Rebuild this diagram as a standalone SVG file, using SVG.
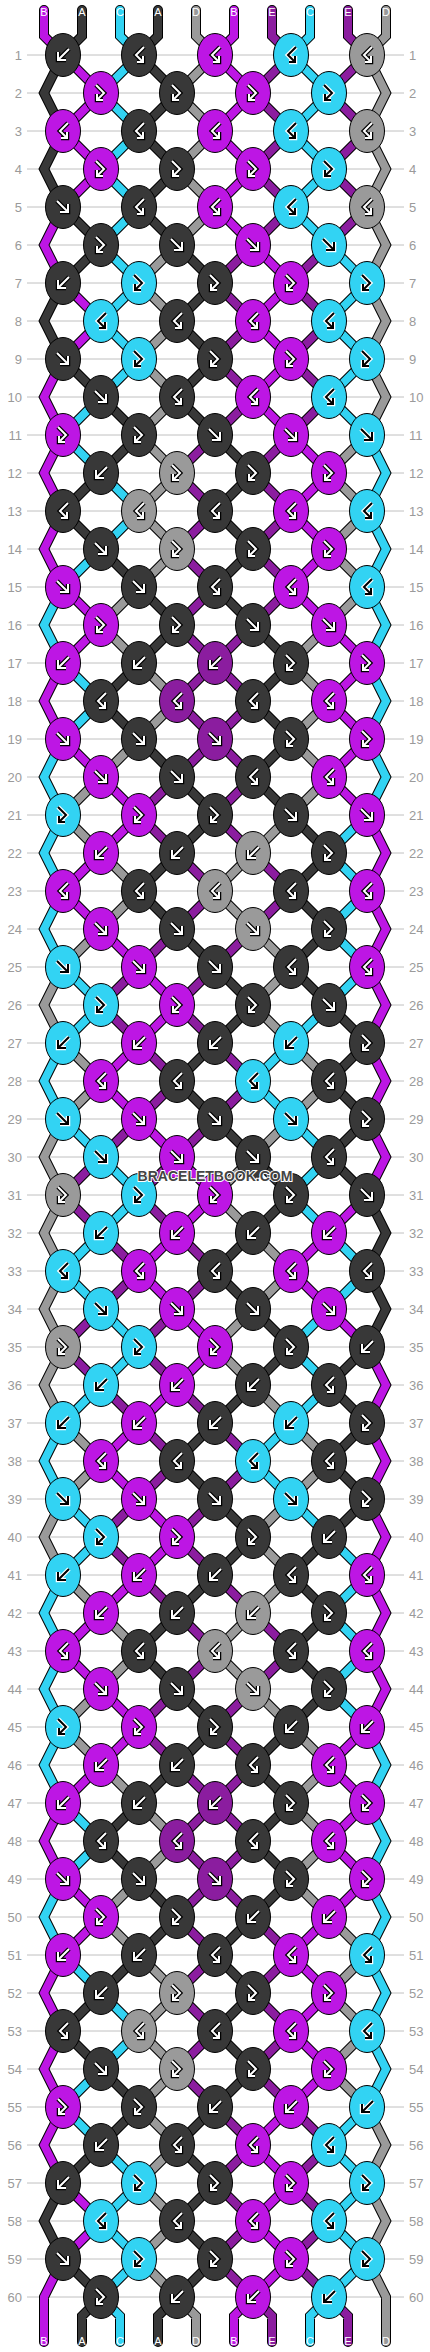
<svg xmlns="http://www.w3.org/2000/svg" width="430" height="2352" viewBox="0 0 430 2352">
<style>
.g{fill:none;stroke:#c0c0c0;stroke-width:1}
.n{font-family:"Liberation Sans",Arial,sans-serif;font-size:13px;fill:#9a9a9a}
.ne{text-anchor:end}
.so{fill:none;stroke:#000;stroke-width:10;stroke-linecap:round}
.si{fill:none;stroke-width:8;stroke-linecap:round}
.ob{fill:none;stroke:#000;stroke-width:4.5}
.iw{fill:none;stroke:#fff;stroke-width:2}
.ow{fill:none;stroke:#fff;stroke-width:4.5}
.ik{fill:none;stroke:#000;stroke-width:2}
.lb{font-family:"Liberation Sans",Arial,sans-serif;font-size:11px;fill:#fff;text-anchor:middle}
.wm{font-family:"Liberation Sans",Arial,sans-serif;font-size:14px;font-weight:bold;fill:#444;stroke:#fff;stroke-width:2;paint-order:stroke;text-anchor:middle}
</style>
<defs>
<ellipse id="e" rx="17.5" ry="21.5" stroke="#000" stroke-width="1"/>
<path id="pf" d="M-6-6L4 4M5-3V5H-3"/>
<path id="pb" d="M6-6L-4 4M-5-3V5H3"/>
<path id="px" d="M-5-8L3 0L-4 7M-4 1V7H2"/>
<path id="py" d="M5-8L-3 0L4 7M4 1V7H-2"/>
<g id="wf"><use href="#pf" class="ob"/><use href="#pf" class="iw"/></g>
<g id="wb"><use href="#pb" class="ob"/><use href="#pb" class="iw"/></g>
<g id="wx"><use href="#px" class="ob"/><use href="#px" class="iw"/></g>
<g id="wy"><use href="#py" class="ob"/><use href="#py" class="iw"/></g>
<g id="zf"><use href="#pf" class="ow"/><use href="#pf" class="ik"/></g>
<g id="zb"><use href="#pb" class="ow"/><use href="#pb" class="ik"/></g>
<g id="zx"><use href="#px" class="ow"/><use href="#px" class="ik"/></g>
<g id="zy"><use href="#py" class="ow"/><use href="#py" class="ik"/></g>
<g id="Kf"><use href="#e" fill="#383838"/><use href="#wf"/></g>
<g id="Kb"><use href="#e" fill="#383838"/><use href="#wb"/></g>
<g id="Kx"><use href="#e" fill="#383838"/><use href="#wx"/></g>
<g id="Ky"><use href="#e" fill="#383838"/><use href="#wy"/></g>
<g id="Mf"><use href="#e" fill="#bd16e4"/><use href="#wf"/></g>
<g id="Mb"><use href="#e" fill="#bd16e4"/><use href="#wb"/></g>
<g id="Mx"><use href="#e" fill="#bd16e4"/><use href="#wx"/></g>
<g id="My"><use href="#e" fill="#bd16e4"/><use href="#wy"/></g>
<g id="Cf"><use href="#e" fill="#32d3f3"/><use href="#zf"/></g>
<g id="Cb"><use href="#e" fill="#32d3f3"/><use href="#zb"/></g>
<g id="Cx"><use href="#e" fill="#32d3f3"/><use href="#zx"/></g>
<g id="Cy"><use href="#e" fill="#32d3f3"/><use href="#zy"/></g>
<g id="Gf"><use href="#e" fill="#9a9a9a"/><use href="#wf"/></g>
<g id="Gb"><use href="#e" fill="#9a9a9a"/><use href="#wb"/></g>
<g id="Gx"><use href="#e" fill="#9a9a9a"/><use href="#wx"/></g>
<g id="Gy"><use href="#e" fill="#9a9a9a"/><use href="#wy"/></g>
<g id="Pf"><use href="#e" fill="#8b1d9f"/><use href="#wf"/></g>
<g id="Pb"><use href="#e" fill="#8b1d9f"/><use href="#wb"/></g>
<g id="Py"><use href="#e" fill="#8b1d9f"/><use href="#wy"/></g>
<path id="s1" d="M44 10V36L63 55 101 93 63 131 101 169 63 207 44 245 63 283 101 321 63 359 44 397 63 435 44 473 63 511 44 549 63 587 101 625 63 663 44 701 63 739 101 777 139 815 101 853 63 891 101 929 139 967 177 1005 139 1043 101 1081 139 1119 177 1157 215 1195 177 1233 139 1271 177 1309 215 1347 177 1385 139 1423 101 1461 139 1499 177 1537 139 1575 101 1613 63 1651 101 1689 139 1727 101 1765 63 1803 44 1841 63 1879 101 1917 63 1955 44 1993 63 2031 44 2069 63 2107 44 2145 63 2183 101 2221 63 2259 44 2297V2342"/>
<path id="s2" d="M82 10V36L63 55 44 93 63 131 44 169 63 207 101 245 63 283 44 321 63 359 101 397 139 435 101 473 63 511 101 549 139 587 177 625 139 663 101 701 139 739 177 777 215 815 177 853 139 891 177 929 215 967 253 1005 215 1043 177 1081 215 1119 253 1157 291 1195 253 1233 215 1271 253 1309 291 1347 253 1385 215 1423 177 1461 215 1499 253 1537 215 1575 177 1613 139 1651 177 1689 215 1727 177 1765 139 1803 101 1841 139 1879 177 1917 139 1955 101 1993 63 2031 101 2069 139 2107 101 2145 63 2183 44 2221 63 2259 101 2297 82 2316V2342"/>
<path id="s3" d="M120 10V36L139 55 101 93 139 131 101 169 139 207 101 245 139 283 101 321 139 359 101 397 63 435 101 473 139 511 101 549 63 587 44 625 63 663 101 701 63 739 44 777 63 815 44 853 63 891 44 929 63 967 101 1005 63 1043 44 1081 63 1119 101 1157 139 1195 101 1233 63 1271 101 1309 139 1347 101 1385 63 1423 44 1461 63 1499 101 1537 63 1575 44 1613 63 1651 44 1689 63 1727 44 1765 63 1803 101 1841 63 1879 44 1917 63 1955 101 1993 139 2031 101 2069 63 2107 101 2145 139 2183 101 2221 139 2259 101 2297 120 2316V2342"/>
<path id="s4" d="M158 10V36L139 55 177 93 139 131 177 169 139 207 177 245 215 283 177 321 215 359 177 397 215 435 253 473 215 511 253 549 215 587 253 625 291 663 253 701 291 739 253 777 291 815 329 853 291 891 329 929 291 967 329 1005 367 1043 329 1081 367 1119 329 1157 367 1195 386 1233 367 1271 386 1309 367 1347 329 1385 367 1423 329 1461 367 1499 329 1537 291 1575 329 1613 291 1651 329 1689 291 1727 253 1765 291 1803 253 1841 291 1879 253 1917 215 1955 253 1993 215 2031 253 2069 215 2107 177 2145 215 2183 177 2221 215 2259 177 2297 158 2316V2342"/>
<path id="s5" d="M196 10V36L215 55 177 93 215 131 177 169 215 207 177 245 139 283 177 321 139 359 177 397 139 435 177 473 139 511 177 549 139 587 101 625 139 663 177 701 139 739 101 777 63 815 101 853 139 891 101 929 63 967 44 1005 63 1043 101 1081 63 1119 44 1157 63 1195 44 1233 63 1271 44 1309 63 1347 44 1385 63 1423 101 1461 63 1499 44 1537 63 1575 101 1613 139 1651 101 1689 63 1727 101 1765 139 1803 177 1841 139 1879 101 1917 139 1955 177 1993 139 2031 177 2069 139 2107 177 2145 139 2183 177 2221 139 2259 177 2297 196 2316V2342"/>
<path id="s6" d="M234 10V36L215 55 253 93 215 131 253 169 215 207 253 245 291 283 253 321 291 359 253 397 291 435 329 473 291 511 329 549 291 587 329 625 367 663 329 701 367 739 329 777 367 815 386 853 367 891 386 929 367 967 386 1005 367 1043 386 1081 367 1119 386 1157 367 1195 329 1233 291 1271 329 1309 367 1347 386 1385 367 1423 386 1461 367 1499 386 1537 367 1575 386 1613 367 1651 386 1689 367 1727 329 1765 367 1803 329 1841 367 1879 329 1917 291 1955 329 1993 291 2031 329 2069 291 2107 253 2145 291 2183 253 2221 291 2259 253 2297 234 2316V2342"/>
<path id="s7" d="M272 10V36L291 55 253 93 291 131 253 169 291 207 253 245 215 283 253 321 215 359 253 397 215 435 177 473 215 511 177 549 215 587 177 625 215 663 253 701 215 739 177 777 139 815 177 853 215 891 177 929 139 967 101 1005 139 1043 177 1081 139 1119 101 1157 63 1195 101 1233 139 1271 101 1309 63 1347 101 1385 139 1423 177 1461 139 1499 101 1537 139 1575 177 1613 215 1651 177 1689 139 1727 177 1765 215 1803 253 1841 215 1879 177 1917 215 1955 177 1993 215 2031 177 2069 215 2107 253 2145 215 2183 253 2221 215 2259 253 2297 272 2316V2342"/>
<path id="s8" d="M310 10V36L291 55 329 93 291 131 329 169 291 207 329 245 367 283 329 321 367 359 329 397 367 435 386 473 367 511 386 549 367 587 386 625 367 663 386 701 367 739 386 777 367 815 329 853 367 891 329 929 367 967 329 1005 291 1043 253 1081 291 1119 329 1157 291 1195 329 1233 367 1271 329 1309 291 1347 329 1385 291 1423 253 1461 291 1499 329 1537 367 1575 329 1613 367 1651 329 1689 367 1727 386 1765 367 1803 386 1841 367 1879 386 1917 367 1955 386 1993 367 2031 386 2069 367 2107 329 2145 367 2183 329 2221 367 2259 329 2297 310 2316V2342"/>
<path id="s9" d="M348 10V36L367 55 329 93 367 131 329 169 367 207 329 245 291 283 329 321 291 359 329 397 291 435 253 473 291 511 253 549 291 587 253 625 215 663 177 701 215 739 253 777 215 815 253 853 291 891 253 929 215 967 177 1005 215 1043 253 1081 215 1119 177 1157 139 1195 177 1233 215 1271 177 1309 139 1347 177 1385 215 1423 253 1461 215 1499 177 1537 215 1575 253 1613 291 1651 253 1689 215 1727 253 1765 215 1803 177 1841 215 1879 253 1917 291 1955 253 1993 291 2031 253 2069 291 2107 329 2145 291 2183 329 2221 291 2259 329 2297 348 2316V2342"/>
<path id="s10" d="M386 10V36L367 55 386 93 367 131 386 169 367 207 386 245 367 283 386 321 367 359 386 397 367 435 329 473 367 511 329 549 367 587 329 625 291 663 329 701 291 739 329 777 291 815 253 853 215 891 253 929 291 967 253 1005 291 1043 329 1081 291 1119 253 1157 215 1195 253 1233 291 1271 253 1309 215 1347 253 1385 291 1423 329 1461 291 1499 253 1537 291 1575 253 1613 215 1651 253 1689 291 1727 329 1765 291 1803 329 1841 291 1879 329 1917 367 1955 329 1993 367 2031 329 2069 367 2107 386 2145 367 2183 386 2221 367 2259 386 2297V2342"/>
</defs>
<rect width="430" height="2352" fill="#fff"/>
<g id="grid">
<path class="g" d="M27 55H404M27 93H404M27 131H404M27 169H404M27 207H404M27 245H404M27 283H404M27 321H404M27 359H404M27 397H404M27 435H404M27 473H404M27 511H404M27 549H404M27 587H404M27 625H404M27 663H404M27 701H404M27 739H404M27 777H404M27 815H404M27 853H404M27 891H404M27 929H404M27 967H404M27 1005H404M27 1043H404M27 1081H404M27 1119H404M27 1157H404M27 1195H404M27 1233H404M27 1271H404M27 1309H404M27 1347H404M27 1385H404M27 1423H404M27 1461H404M27 1499H404M27 1537H404M27 1575H404M27 1613H404M27 1651H404M27 1689H404M27 1727H404M27 1765H404M27 1803H404M27 1841H404M27 1879H404M27 1917H404M27 1955H404M27 1993H404M27 2031H404M27 2069H404M27 2107H404M27 2145H404M27 2183H404M27 2221H404M27 2259H404M27 2297H404"/>
</g>
<g id="rownumbers" class="n">
<g class="ne">
<text x="22" y="60">1</text><text x="22" y="98">2</text><text x="22" y="136">3</text><text x="22" y="174">4</text><text x="22" y="212">5</text><text x="22" y="250">6</text><text x="22" y="288">7</text><text x="22" y="326">8</text><text x="22" y="364">9</text><text x="22" y="402">10</text>
<text x="22" y="440">11</text><text x="22" y="478">12</text><text x="22" y="516">13</text><text x="22" y="554">14</text><text x="22" y="592">15</text><text x="22" y="630">16</text><text x="22" y="668">17</text><text x="22" y="706">18</text><text x="22" y="744">19</text><text x="22" y="782">20</text>
<text x="22" y="820">21</text><text x="22" y="858">22</text><text x="22" y="896">23</text><text x="22" y="934">24</text><text x="22" y="972">25</text><text x="22" y="1010">26</text><text x="22" y="1048">27</text><text x="22" y="1086">28</text><text x="22" y="1124">29</text><text x="22" y="1162">30</text>
<text x="22" y="1200">31</text><text x="22" y="1238">32</text><text x="22" y="1276">33</text><text x="22" y="1314">34</text><text x="22" y="1352">35</text><text x="22" y="1390">36</text><text x="22" y="1428">37</text><text x="22" y="1466">38</text><text x="22" y="1504">39</text><text x="22" y="1542">40</text>
<text x="22" y="1580">41</text><text x="22" y="1618">42</text><text x="22" y="1656">43</text><text x="22" y="1694">44</text><text x="22" y="1732">45</text><text x="22" y="1770">46</text><text x="22" y="1808">47</text><text x="22" y="1846">48</text><text x="22" y="1884">49</text><text x="22" y="1922">50</text>
<text x="22" y="1960">51</text><text x="22" y="1998">52</text><text x="22" y="2036">53</text><text x="22" y="2074">54</text><text x="22" y="2112">55</text><text x="22" y="2150">56</text><text x="22" y="2188">57</text><text x="22" y="2226">58</text><text x="22" y="2264">59</text><text x="22" y="2302">60</text>
</g>
<g>
<text x="409" y="60">1</text><text x="409" y="98">2</text><text x="409" y="136">3</text><text x="409" y="174">4</text><text x="409" y="212">5</text><text x="409" y="250">6</text><text x="409" y="288">7</text><text x="409" y="326">8</text><text x="409" y="364">9</text><text x="409" y="402">10</text>
<text x="409" y="440">11</text><text x="409" y="478">12</text><text x="409" y="516">13</text><text x="409" y="554">14</text><text x="409" y="592">15</text><text x="409" y="630">16</text><text x="409" y="668">17</text><text x="409" y="706">18</text><text x="409" y="744">19</text><text x="409" y="782">20</text>
<text x="409" y="820">21</text><text x="409" y="858">22</text><text x="409" y="896">23</text><text x="409" y="934">24</text><text x="409" y="972">25</text><text x="409" y="1010">26</text><text x="409" y="1048">27</text><text x="409" y="1086">28</text><text x="409" y="1124">29</text><text x="409" y="1162">30</text>
<text x="409" y="1200">31</text><text x="409" y="1238">32</text><text x="409" y="1276">33</text><text x="409" y="1314">34</text><text x="409" y="1352">35</text><text x="409" y="1390">36</text><text x="409" y="1428">37</text><text x="409" y="1466">38</text><text x="409" y="1504">39</text><text x="409" y="1542">40</text>
<text x="409" y="1580">41</text><text x="409" y="1618">42</text><text x="409" y="1656">43</text><text x="409" y="1694">44</text><text x="409" y="1732">45</text><text x="409" y="1770">46</text><text x="409" y="1808">47</text><text x="409" y="1846">48</text><text x="409" y="1884">49</text><text x="409" y="1922">50</text>
<text x="409" y="1960">51</text><text x="409" y="1998">52</text><text x="409" y="2036">53</text><text x="409" y="2074">54</text><text x="409" y="2112">55</text><text x="409" y="2150">56</text><text x="409" y="2188">57</text><text x="409" y="2226">58</text><text x="409" y="2264">59</text><text x="409" y="2302">60</text>
</g>
</g>
<g id="connectors">
<use href="#s1" class="so"/><use href="#s2" class="so"/><use href="#s3" class="so"/><use href="#s4" class="so"/><use href="#s5" class="so"/><use href="#s6" class="so"/><use href="#s7" class="so"/><use href="#s8" class="so"/><use href="#s9" class="so"/><use href="#s10" class="so"/>
<use href="#s1" class="si" stroke="#bd16e4"/><use href="#s2" class="si" stroke="#383838"/><use href="#s3" class="si" stroke="#32d3f3"/><use href="#s4" class="si" stroke="#383838"/><use href="#s5" class="si" stroke="#9a9a9a"/><use href="#s6" class="si" stroke="#bd16e4"/><use href="#s7" class="si" stroke="#8b1d9f"/><use href="#s8" class="si" stroke="#32d3f3"/><use href="#s9" class="si" stroke="#8b1d9f"/><use href="#s10" class="si" stroke="#9a9a9a"/>
</g>
<g id="labels" class="lb">
<text x="44" y="16">B</text><text x="82" y="16">A</text><text x="120" y="16">C</text><text x="158" y="16">A</text><text x="196" y="16">D</text><text x="234" y="16">B</text><text x="272" y="16">E</text><text x="310" y="16">C</text><text x="348" y="16">E</text><text x="386" y="16">D</text>
<text x="44" y="2345">B</text><text x="82" y="2345">A</text><text x="120" y="2345">C</text><text x="158" y="2345">A</text><text x="196" y="2345">D</text><text x="234" y="2345">B</text><text x="272" y="2345">E</text><text x="310" y="2345">C</text><text x="348" y="2345">E</text><text x="386" y="2345">D</text>
</g>
<g id="knots">
<g id="k1-1"><use href="#Kb" x="63" y="55"/></g><g id="k1-2"><use href="#Ky" x="139" y="55"/></g><g id="k1-3"><use href="#My" x="215" y="55"/></g><g id="k1-4"><use href="#Cy" x="291" y="55"/></g><g id="k1-5"><use href="#Gy" x="367" y="55"/></g>
<g id="k2-1"><use href="#Mx" x="101" y="93"/></g><g id="k2-2"><use href="#Kx" x="177" y="93"/></g><g id="k2-3"><use href="#Mx" x="253" y="93"/></g><g id="k2-4"><use href="#Cx" x="329" y="93"/></g>
<g id="k3-1"><use href="#My" x="63" y="131"/></g><g id="k3-2"><use href="#Ky" x="139" y="131"/></g><g id="k3-3"><use href="#My" x="215" y="131"/></g><g id="k3-4"><use href="#Cy" x="291" y="131"/></g><g id="k3-5"><use href="#Gy" x="367" y="131"/></g>
<g id="k4-1"><use href="#Mx" x="101" y="169"/></g><g id="k4-2"><use href="#Kx" x="177" y="169"/></g><g id="k4-3"><use href="#Mx" x="253" y="169"/></g><g id="k4-4"><use href="#Cx" x="329" y="169"/></g>
<g id="k5-1"><use href="#Kf" x="63" y="207"/></g><g id="k5-2"><use href="#Ky" x="139" y="207"/></g><g id="k5-3"><use href="#My" x="215" y="207"/></g><g id="k5-4"><use href="#Cy" x="291" y="207"/></g><g id="k5-5"><use href="#Gy" x="367" y="207"/></g>
<g id="k6-1"><use href="#Kx" x="101" y="245"/></g><g id="k6-2"><use href="#Kf" x="177" y="245"/></g><g id="k6-3"><use href="#Mf" x="253" y="245"/></g><g id="k6-4"><use href="#Cf" x="329" y="245"/></g>
<g id="k7-1"><use href="#Kb" x="63" y="283"/></g><g id="k7-2"><use href="#Cx" x="139" y="283"/></g><g id="k7-3"><use href="#Kx" x="215" y="283"/></g><g id="k7-4"><use href="#Mx" x="291" y="283"/></g><g id="k7-5"><use href="#Cx" x="367" y="283"/></g>
<g id="k8-1"><use href="#Cy" x="101" y="321"/></g><g id="k8-2"><use href="#Ky" x="177" y="321"/></g><g id="k8-3"><use href="#My" x="253" y="321"/></g><g id="k8-4"><use href="#Cy" x="329" y="321"/></g>
<g id="k9-1"><use href="#Kf" x="63" y="359"/></g><g id="k9-2"><use href="#Cx" x="139" y="359"/></g><g id="k9-3"><use href="#Kx" x="215" y="359"/></g><g id="k9-4"><use href="#Mx" x="291" y="359"/></g><g id="k9-5"><use href="#Cx" x="367" y="359"/></g>
<g id="k10-1"><use href="#Kf" x="101" y="397"/></g><g id="k10-2"><use href="#Ky" x="177" y="397"/></g><g id="k10-3"><use href="#My" x="253" y="397"/></g><g id="k10-4"><use href="#Cy" x="329" y="397"/></g>
<g id="k11-1"><use href="#Mx" x="63" y="435"/></g><g id="k11-2"><use href="#Kx" x="139" y="435"/></g><g id="k11-3"><use href="#Kf" x="215" y="435"/></g><g id="k11-4"><use href="#Mf" x="291" y="435"/></g><g id="k11-5"><use href="#Cf" x="367" y="435"/></g>
<g id="k12-1"><use href="#Kb" x="101" y="473"/></g><g id="k12-2"><use href="#Gx" x="177" y="473"/></g><g id="k12-3"><use href="#Kx" x="253" y="473"/></g><g id="k12-4"><use href="#Mx" x="329" y="473"/></g>
<g id="k13-1"><use href="#Ky" x="63" y="511"/></g><g id="k13-2"><use href="#Gy" x="139" y="511"/></g><g id="k13-3"><use href="#Ky" x="215" y="511"/></g><g id="k13-4"><use href="#My" x="291" y="511"/></g><g id="k13-5"><use href="#Cy" x="367" y="511"/></g>
<g id="k14-1"><use href="#Kf" x="101" y="549"/></g><g id="k14-2"><use href="#Gx" x="177" y="549"/></g><g id="k14-3"><use href="#Kx" x="253" y="549"/></g><g id="k14-4"><use href="#Mx" x="329" y="549"/></g>
<g id="k15-1"><use href="#Mf" x="63" y="587"/></g><g id="k15-2"><use href="#Kf" x="139" y="587"/></g><g id="k15-3"><use href="#Ky" x="215" y="587"/></g><g id="k15-4"><use href="#My" x="291" y="587"/></g><g id="k15-5"><use href="#Cy" x="367" y="587"/></g>
<g id="k16-1"><use href="#Mx" x="101" y="625"/></g><g id="k16-2"><use href="#Kx" x="177" y="625"/></g><g id="k16-3"><use href="#Kf" x="253" y="625"/></g><g id="k16-4"><use href="#Mf" x="329" y="625"/></g>
<g id="k17-1"><use href="#Mb" x="63" y="663"/></g><g id="k17-2"><use href="#Kb" x="139" y="663"/></g><g id="k17-3"><use href="#Pb" x="215" y="663"/></g><g id="k17-4"><use href="#Kx" x="291" y="663"/></g><g id="k17-5"><use href="#Mx" x="367" y="663"/></g>
<g id="k18-1"><use href="#Ky" x="101" y="701"/></g><g id="k18-2"><use href="#Py" x="177" y="701"/></g><g id="k18-3"><use href="#Ky" x="253" y="701"/></g><g id="k18-4"><use href="#My" x="329" y="701"/></g>
<g id="k19-1"><use href="#Mf" x="63" y="739"/></g><g id="k19-2"><use href="#Kf" x="139" y="739"/></g><g id="k19-3"><use href="#Pf" x="215" y="739"/></g><g id="k19-4"><use href="#Kx" x="291" y="739"/></g><g id="k19-5"><use href="#Mx" x="367" y="739"/></g>
<g id="k20-1"><use href="#Mf" x="101" y="777"/></g><g id="k20-2"><use href="#Kf" x="177" y="777"/></g><g id="k20-3"><use href="#Ky" x="253" y="777"/></g><g id="k20-4"><use href="#My" x="329" y="777"/></g>
<g id="k21-1"><use href="#Cx" x="63" y="815"/></g><g id="k21-2"><use href="#Mx" x="139" y="815"/></g><g id="k21-3"><use href="#Kx" x="215" y="815"/></g><g id="k21-4"><use href="#Kf" x="291" y="815"/></g><g id="k21-5"><use href="#Mf" x="367" y="815"/></g>
<g id="k22-1"><use href="#Mb" x="101" y="853"/></g><g id="k22-2"><use href="#Kb" x="177" y="853"/></g><g id="k22-3"><use href="#Gb" x="253" y="853"/></g><g id="k22-4"><use href="#Kx" x="329" y="853"/></g>
<g id="k23-1"><use href="#My" x="63" y="891"/></g><g id="k23-2"><use href="#Ky" x="139" y="891"/></g><g id="k23-3"><use href="#Gy" x="215" y="891"/></g><g id="k23-4"><use href="#Ky" x="291" y="891"/></g><g id="k23-5"><use href="#My" x="367" y="891"/></g>
<g id="k24-1"><use href="#Mf" x="101" y="929"/></g><g id="k24-2"><use href="#Kf" x="177" y="929"/></g><g id="k24-3"><use href="#Gf" x="253" y="929"/></g><g id="k24-4"><use href="#Kx" x="329" y="929"/></g>
<g id="k25-1"><use href="#Cf" x="63" y="967"/></g><g id="k25-2"><use href="#Mf" x="139" y="967"/></g><g id="k25-3"><use href="#Kf" x="215" y="967"/></g><g id="k25-4"><use href="#Ky" x="291" y="967"/></g><g id="k25-5"><use href="#My" x="367" y="967"/></g>
<g id="k26-1"><use href="#Cx" x="101" y="1005"/></g><g id="k26-2"><use href="#Mx" x="177" y="1005"/></g><g id="k26-3"><use href="#Kx" x="253" y="1005"/></g><g id="k26-4"><use href="#Kf" x="329" y="1005"/></g>
<g id="k27-1"><use href="#Cb" x="63" y="1043"/></g><g id="k27-2"><use href="#Mb" x="139" y="1043"/></g><g id="k27-3"><use href="#Kb" x="215" y="1043"/></g><g id="k27-4"><use href="#Cb" x="291" y="1043"/></g><g id="k27-5"><use href="#Kx" x="367" y="1043"/></g>
<g id="k28-1"><use href="#My" x="101" y="1081"/></g><g id="k28-2"><use href="#Ky" x="177" y="1081"/></g><g id="k28-3"><use href="#Cy" x="253" y="1081"/></g><g id="k28-4"><use href="#Ky" x="329" y="1081"/></g>
<g id="k29-1"><use href="#Cf" x="63" y="1119"/></g><g id="k29-2"><use href="#Mf" x="139" y="1119"/></g><g id="k29-3"><use href="#Kf" x="215" y="1119"/></g><g id="k29-4"><use href="#Cf" x="291" y="1119"/></g><g id="k29-5"><use href="#Kx" x="367" y="1119"/></g>
<g id="k30-1"><use href="#Cf" x="101" y="1157"/></g><g id="k30-2"><use href="#Mf" x="177" y="1157"/></g><g id="k30-3"><use href="#Kf" x="253" y="1157"/></g><g id="k30-4"><use href="#Ky" x="329" y="1157"/></g>
<g id="k31-1"><use href="#Gx" x="63" y="1195"/></g><g id="k31-2"><use href="#Cx" x="139" y="1195"/></g><g id="k31-3"><use href="#Mx" x="215" y="1195"/></g><g id="k31-4"><use href="#Kx" x="291" y="1195"/></g><g id="k31-5"><use href="#Kf" x="367" y="1195"/></g>
<g id="k32-1"><use href="#Cb" x="101" y="1233"/></g><g id="k32-2"><use href="#Mb" x="177" y="1233"/></g><g id="k32-3"><use href="#Kb" x="253" y="1233"/></g><g id="k32-4"><use href="#Mb" x="329" y="1233"/></g>
<g id="k33-1"><use href="#Cy" x="63" y="1271"/></g><g id="k33-2"><use href="#My" x="139" y="1271"/></g><g id="k33-3"><use href="#Ky" x="215" y="1271"/></g><g id="k33-4"><use href="#My" x="291" y="1271"/></g><g id="k33-5"><use href="#Ky" x="367" y="1271"/></g>
<g id="k34-1"><use href="#Cf" x="101" y="1309"/></g><g id="k34-2"><use href="#Mf" x="177" y="1309"/></g><g id="k34-3"><use href="#Kf" x="253" y="1309"/></g><g id="k34-4"><use href="#Mf" x="329" y="1309"/></g>
<g id="k35-1"><use href="#Gx" x="63" y="1347"/></g><g id="k35-2"><use href="#Cx" x="139" y="1347"/></g><g id="k35-3"><use href="#Mx" x="215" y="1347"/></g><g id="k35-4"><use href="#Kx" x="291" y="1347"/></g><g id="k35-5"><use href="#Kb" x="367" y="1347"/></g>
<g id="k36-1"><use href="#Cb" x="101" y="1385"/></g><g id="k36-2"><use href="#Mb" x="177" y="1385"/></g><g id="k36-3"><use href="#Kb" x="253" y="1385"/></g><g id="k36-4"><use href="#Ky" x="329" y="1385"/></g>
<g id="k37-1"><use href="#Cb" x="63" y="1423"/></g><g id="k37-2"><use href="#Mb" x="139" y="1423"/></g><g id="k37-3"><use href="#Kb" x="215" y="1423"/></g><g id="k37-4"><use href="#Cb" x="291" y="1423"/></g><g id="k37-5"><use href="#Kx" x="367" y="1423"/></g>
<g id="k38-1"><use href="#My" x="101" y="1461"/></g><g id="k38-2"><use href="#Ky" x="177" y="1461"/></g><g id="k38-3"><use href="#Cy" x="253" y="1461"/></g><g id="k38-4"><use href="#Ky" x="329" y="1461"/></g>
<g id="k39-1"><use href="#Cf" x="63" y="1499"/></g><g id="k39-2"><use href="#Mf" x="139" y="1499"/></g><g id="k39-3"><use href="#Kf" x="215" y="1499"/></g><g id="k39-4"><use href="#Cf" x="291" y="1499"/></g><g id="k39-5"><use href="#Kx" x="367" y="1499"/></g>
<g id="k40-1"><use href="#Cx" x="101" y="1537"/></g><g id="k40-2"><use href="#Mx" x="177" y="1537"/></g><g id="k40-3"><use href="#Kx" x="253" y="1537"/></g><g id="k40-4"><use href="#Kb" x="329" y="1537"/></g>
<g id="k41-1"><use href="#Cb" x="63" y="1575"/></g><g id="k41-2"><use href="#Mb" x="139" y="1575"/></g><g id="k41-3"><use href="#Kb" x="215" y="1575"/></g><g id="k41-4"><use href="#Ky" x="291" y="1575"/></g><g id="k41-5"><use href="#My" x="367" y="1575"/></g>
<g id="k42-1"><use href="#Mb" x="101" y="1613"/></g><g id="k42-2"><use href="#Kb" x="177" y="1613"/></g><g id="k42-3"><use href="#Gb" x="253" y="1613"/></g><g id="k42-4"><use href="#Kx" x="329" y="1613"/></g>
<g id="k43-1"><use href="#My" x="63" y="1651"/></g><g id="k43-2"><use href="#Ky" x="139" y="1651"/></g><g id="k43-3"><use href="#Gy" x="215" y="1651"/></g><g id="k43-4"><use href="#Ky" x="291" y="1651"/></g><g id="k43-5"><use href="#My" x="367" y="1651"/></g>
<g id="k44-1"><use href="#Mf" x="101" y="1689"/></g><g id="k44-2"><use href="#Kf" x="177" y="1689"/></g><g id="k44-3"><use href="#Gf" x="253" y="1689"/></g><g id="k44-4"><use href="#Kx" x="329" y="1689"/></g>
<g id="k45-1"><use href="#Cx" x="63" y="1727"/></g><g id="k45-2"><use href="#Mx" x="139" y="1727"/></g><g id="k45-3"><use href="#Kx" x="215" y="1727"/></g><g id="k45-4"><use href="#Kb" x="291" y="1727"/></g><g id="k45-5"><use href="#Mb" x="367" y="1727"/></g>
<g id="k46-1"><use href="#Mb" x="101" y="1765"/></g><g id="k46-2"><use href="#Kb" x="177" y="1765"/></g><g id="k46-3"><use href="#Ky" x="253" y="1765"/></g><g id="k46-4"><use href="#My" x="329" y="1765"/></g>
<g id="k47-1"><use href="#Mb" x="63" y="1803"/></g><g id="k47-2"><use href="#Kb" x="139" y="1803"/></g><g id="k47-3"><use href="#Pb" x="215" y="1803"/></g><g id="k47-4"><use href="#Kx" x="291" y="1803"/></g><g id="k47-5"><use href="#Mx" x="367" y="1803"/></g>
<g id="k48-1"><use href="#Ky" x="101" y="1841"/></g><g id="k48-2"><use href="#Py" x="177" y="1841"/></g><g id="k48-3"><use href="#Ky" x="253" y="1841"/></g><g id="k48-4"><use href="#My" x="329" y="1841"/></g>
<g id="k49-1"><use href="#Mf" x="63" y="1879"/></g><g id="k49-2"><use href="#Kf" x="139" y="1879"/></g><g id="k49-3"><use href="#Pf" x="215" y="1879"/></g><g id="k49-4"><use href="#Kx" x="291" y="1879"/></g><g id="k49-5"><use href="#Mx" x="367" y="1879"/></g>
<g id="k50-1"><use href="#Mx" x="101" y="1917"/></g><g id="k50-2"><use href="#Kx" x="177" y="1917"/></g><g id="k50-3"><use href="#Kb" x="253" y="1917"/></g><g id="k50-4"><use href="#Mb" x="329" y="1917"/></g>
<g id="k51-1"><use href="#Mb" x="63" y="1955"/></g><g id="k51-2"><use href="#Kb" x="139" y="1955"/></g><g id="k51-3"><use href="#Ky" x="215" y="1955"/></g><g id="k51-4"><use href="#My" x="291" y="1955"/></g><g id="k51-5"><use href="#Cy" x="367" y="1955"/></g>
<g id="k52-1"><use href="#Kb" x="101" y="1993"/></g><g id="k52-2"><use href="#Gx" x="177" y="1993"/></g><g id="k52-3"><use href="#Kx" x="253" y="1993"/></g><g id="k52-4"><use href="#Mx" x="329" y="1993"/></g>
<g id="k53-1"><use href="#Ky" x="63" y="2031"/></g><g id="k53-2"><use href="#Gy" x="139" y="2031"/></g><g id="k53-3"><use href="#Ky" x="215" y="2031"/></g><g id="k53-4"><use href="#My" x="291" y="2031"/></g><g id="k53-5"><use href="#Cy" x="367" y="2031"/></g>
<g id="k54-1"><use href="#Kf" x="101" y="2069"/></g><g id="k54-2"><use href="#Gx" x="177" y="2069"/></g><g id="k54-3"><use href="#Kx" x="253" y="2069"/></g><g id="k54-4"><use href="#Mx" x="329" y="2069"/></g>
<g id="k55-1"><use href="#Mx" x="63" y="2107"/></g><g id="k55-2"><use href="#Kx" x="139" y="2107"/></g><g id="k55-3"><use href="#Kb" x="215" y="2107"/></g><g id="k55-4"><use href="#Mb" x="291" y="2107"/></g><g id="k55-5"><use href="#Cb" x="367" y="2107"/></g>
<g id="k56-1"><use href="#Kb" x="101" y="2145"/></g><g id="k56-2"><use href="#Ky" x="177" y="2145"/></g><g id="k56-3"><use href="#My" x="253" y="2145"/></g><g id="k56-4"><use href="#Cy" x="329" y="2145"/></g>
<g id="k57-1"><use href="#Kb" x="63" y="2183"/></g><g id="k57-2"><use href="#Cx" x="139" y="2183"/></g><g id="k57-3"><use href="#Kx" x="215" y="2183"/></g><g id="k57-4"><use href="#Mx" x="291" y="2183"/></g><g id="k57-5"><use href="#Cx" x="367" y="2183"/></g>
<g id="k58-1"><use href="#Cy" x="101" y="2221"/></g><g id="k58-2"><use href="#Ky" x="177" y="2221"/></g><g id="k58-3"><use href="#My" x="253" y="2221"/></g><g id="k58-4"><use href="#Cy" x="329" y="2221"/></g>
<g id="k59-1"><use href="#Kf" x="63" y="2259"/></g><g id="k59-2"><use href="#Cx" x="139" y="2259"/></g><g id="k59-3"><use href="#Kx" x="215" y="2259"/></g><g id="k59-4"><use href="#Mx" x="291" y="2259"/></g><g id="k59-5"><use href="#Cx" x="367" y="2259"/></g>
<g id="k60-1"><use href="#Kx" x="101" y="2297"/></g><g id="k60-2"><use href="#Kb" x="177" y="2297"/></g><g id="k60-3"><use href="#Mb" x="253" y="2297"/></g><g id="k60-4"><use href="#Cb" x="329" y="2297"/></g>
</g>
<text class="wm" x="215" y="1181">BRACELETBOOK.COM</text>
</svg>
